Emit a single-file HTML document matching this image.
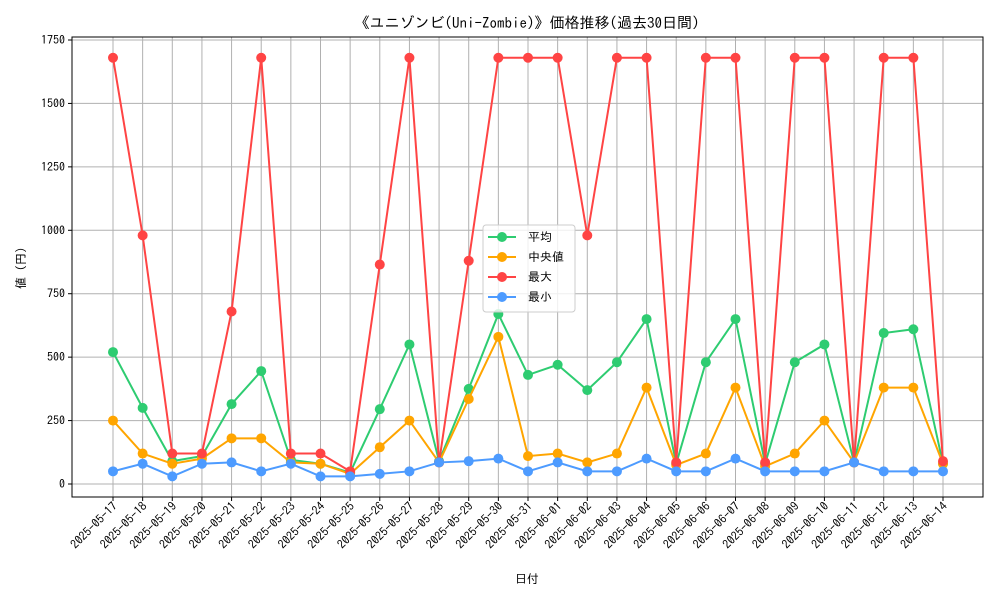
<!DOCTYPE html>
<html><head><meta charset="utf-8"><style>
body{margin:0;background:#fff;}
svg text{font-family:"IPAGothic","Noto Sans CJK JP",monospace;}
</style></head><body>
<svg id="chart" width="1000" height="600" xmlns="http://www.w3.org/2000/svg">
<rect width="1000" height="600" fill="#fff"/>
<text x="527" y="28" text-anchor="middle" font-size="15">《ユニゾンビ(Uni-Zombie)》価格推移(過去30日間)</text>
<g id="grid"></g><g id="series"></g><g id="axes"></g>
<text x="527" y="583" text-anchor="middle" font-size="12">日付</text>
<text transform="translate(25,268) rotate(-90)" text-anchor="middle" font-size="12">値 (円)</text>
<g id="legend">
<rect x="483" y="225" width="92" height="87" fill="#fff" fill-opacity="0.8" stroke="#ccc" rx="3"/>
</g>
</svg>
<script>
const categories=["2025-05-17","2025-05-18","2025-05-19","2025-05-20","2025-05-21","2025-05-22","2025-05-23","2025-05-24","2025-05-25","2025-05-26","2025-05-27","2025-05-28","2025-05-29","2025-05-30","2025-05-31","2025-06-01","2025-06-02","2025-06-03","2025-06-04","2025-06-05","2025-06-06","2025-06-07","2025-06-08","2025-06-09","2025-06-10","2025-06-11","2025-06-12","2025-06-13","2025-06-14"];
const avgValues=[520,300,90,110,315,445,95,80,45,295,550,90,375,670,430,470,370,480,650,80,480,650,80,480,550,85,595,610,80];
const medianValues=[250,120,80,100,180,180,85,80,40,145,250,85,335,580,110,120,85,120,380,75,120,380,70,120,250,85,380,380,80];
const maxValues=[1680,980,120,120,680,1680,120,120,50,865,1680,85,880,1680,1680,1680,980,1680,1680,85,1680,1680,85,1680,1680,85,1680,1680,90];
const minValues=[50,80,30,80,85,50,80,30,30,40,50,85,90,100,50,85,50,50,100,50,50,100,50,50,50,85,50,50,50];
const yTicks=[0,250,500,750,1000,1250,1500,1750];
const seriesNames=["平均","中央値","最大","最小"];
const NS="http://www.w3.org/2000/svg";
const L=72,R=983,T=37,B=497;
const x=i=>113+i*(943-113)/(categories.length-1);
const y=v=>484-v*(444/1750);
function mk(tag,attrs,parent){const e=document.createElementNS(NS,tag);for(const k in attrs)e.setAttribute(k,attrs[k]);parent.appendChild(e);return e;}
const grid=document.getElementById('grid'),axes=document.getElementById('axes'),ser=document.getElementById('series'),leg=document.getElementById('legend');
categories.forEach((c,i)=>{
  const g=mk('line',{x1:x(i),x2:x(i),y1:T,y2:B,stroke:'#b0b0b0','stroke-width':1},grid);
  
  
  mk('line',{x1:x(i),x2:x(i),y1:B,y2:B+4,stroke:'#000'},axes);
  const t=mk('text',{x:0,y:0,'font-size':12,'text-anchor':'end',transform:`translate(${x(i)+5},${B+10}) rotate(-45)`},axes);
  t.textContent=c;
  
  
});
yTicks.forEach(v=>{
  const g=mk('line',{x1:L,x2:R,y1:y(v),y2:y(v),stroke:'#b0b0b0','stroke-width':1},grid);
  
  
  mk('line',{x1:L-4,x2:L,y1:y(v),y2:y(v),stroke:'#000'},axes);
  const t=mk('text',{x:L-7,y:y(v)+4,'font-size':12,'text-anchor':'end'},axes);
  t.textContent=v;
  
  
});
const frame=mk('rect',{x:L,y:T,width:R-L,height:B-T,fill:'none',stroke:'#000'},axes);


const all=[avgValues,medianValues,maxValues,minValues];
const colors=['#2ecc71','#ffa500','#ff4444','#4d9bff'];
const keys=['avg','median','max','min'];
all.forEach((vals,s)=>{
  const g=mk('g',{},ser);
  
  
  const p=mk('polyline',{points:vals.map((v,i)=>x(i)+','+y(v)).join(' '),fill:'none',stroke:colors[s],'stroke-width':2},g);
  
  
  vals.forEach((v,i)=>{
    const c=mk('circle',{cx:x(i),cy:y(v),r:5,fill:colors[s]},g);
    
    
  });
  const ly=237+s*20;
  const e=mk('g',{},leg);
  
  
  mk('line',{x1:488,x2:516,y1:ly,y2:ly,stroke:colors[s],'stroke-width':2},e);
  mk('circle',{cx:502,cy:ly,r:5,fill:colors[s]},e);
  const t=mk('text',{x:528,y:ly+4,'font-size':12},e);
  t.textContent=seriesNames[s];
});
</script>
</body></html>
